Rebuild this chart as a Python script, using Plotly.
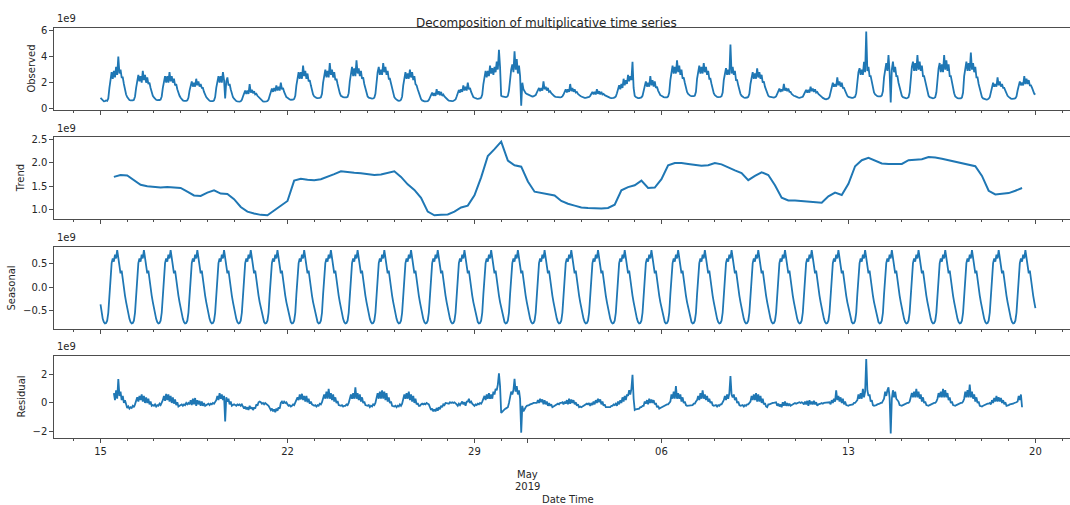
import pandas as pd
import plotly.graph_objects as go

# ---------------- data (values in units of 1e9) ----------------
# observed, hourly from 2019-04-15 00:00, one row per day (h0 ... h23)
OBS_ROWS = [
    [0.85, 0.75, 0.62, 0.58, 0.60, 0.65, 0.62, 0.80, 1.60, 2.30, 2.80, 2.30, 2.90, 2.40, 3.20, 2.60, 4.00, 2.70, 3.00, 2.40, 2.40, 1.90, 1.40, 1.10],  # Apr 15
    [0.90, 0.75, 0.68, 0.65, 0.64, 0.66, 0.70, 0.95, 1.60, 2.20, 2.60, 2.10, 2.50, 2.00, 2.90, 2.20, 2.60, 2.00, 2.40, 1.90, 2.00, 1.60, 1.25, 1.00],
    [0.88, 0.76, 0.70, 0.67, 0.66, 0.68, 0.72, 0.95, 1.60, 2.20, 2.50, 2.00, 2.50, 2.00, 2.80, 2.10, 2.50, 2.00, 2.30, 1.80, 1.90, 1.50, 1.20, 1.00],
    [0.85, 0.72, 0.65, 0.62, 0.60, 0.62, 0.66, 0.85, 1.40, 1.80, 2.10, 1.70, 2.00, 1.70, 2.30, 1.80, 2.10, 1.70, 1.90, 1.60, 1.60, 1.30, 1.05, 0.90],
    [0.80, 0.70, 0.62, 0.60, 0.58, 0.60, 0.65, 0.90, 1.60, 2.20, 2.50, 2.00, 2.50, 2.00, 2.80, 2.20, 0.80, 2.10, 2.40, 1.80, 1.90, 1.50, 1.15, 0.90],
    [0.78, 0.66, 0.60, 0.57, 0.55, 0.56, 0.58, 0.70, 0.95, 1.20, 1.40, 1.15, 1.40, 1.15, 1.90, 1.25, 1.45, 1.20, 1.35, 1.10, 1.15, 1.00, 0.90, 0.80],  # Apr 20
    [0.72, 0.64, 0.58, 0.56, 0.55, 0.57, 0.60, 0.72, 1.00, 1.30, 1.55, 1.30, 1.60, 1.35, 1.80, 1.40, 1.70, 1.40, 2.00, 1.50, 1.60, 1.30, 1.10, 0.90],
    [0.85, 0.76, 0.72, 0.70, 0.69, 0.71, 0.76, 1.00, 1.80, 2.40, 2.80, 2.30, 2.80, 2.30, 3.30, 2.50, 2.90, 2.30, 2.70, 2.10, 2.20, 1.80, 1.40, 1.10],
    [0.95, 0.88, 0.85, 0.83, 0.82, 0.84, 0.88, 1.15, 2.00, 2.60, 3.00, 2.40, 2.90, 2.40, 3.50, 2.60, 3.00, 2.40, 2.80, 2.20, 2.30, 1.90, 1.50, 1.20],
    [1.00, 0.93, 0.90, 0.88, 0.87, 0.88, 0.92, 1.20, 2.10, 2.80, 3.20, 2.50, 3.10, 2.50, 3.70, 2.70, 3.10, 2.50, 2.90, 2.30, 2.40, 1.90, 1.50, 1.20],
    [0.95, 0.86, 0.82, 0.80, 0.79, 0.80, 0.86, 1.15, 2.10, 2.80, 3.20, 2.60, 3.00, 2.60, 3.50, 2.80, 3.20, 2.60, 2.90, 2.30, 2.30, 1.90, 1.50, 1.15],  # Apr 25
    [0.90, 0.78, 0.70, 0.65, 0.62, 0.63, 0.70, 0.95, 1.80, 2.50, 2.80, 2.30, 2.70, 2.30, 3.00, 2.40, 2.80, 2.20, 2.50, 1.90, 1.80, 1.50, 1.20, 0.95],
    [0.75, 0.65, 0.60, 0.58, 0.57, 0.58, 0.60, 0.68, 0.85, 1.05, 1.25, 1.00, 1.20, 1.00, 1.50, 1.10, 1.35, 1.05, 1.30, 1.00, 1.10, 0.95, 0.85, 0.75],
    [0.70, 0.64, 0.61, 0.60, 0.60, 0.61, 0.64, 0.72, 0.95, 1.20, 1.45, 1.25, 1.50, 1.30, 1.80, 1.40, 1.70, 1.40, 2.00, 1.50, 1.60, 1.30, 1.05, 0.90],
    [0.85, 0.80, 0.78, 0.77, 0.78, 0.80, 0.86, 1.10, 1.90, 2.50, 2.90, 2.40, 2.90, 2.50, 3.30, 2.70, 3.10, 2.60, 3.20, 2.80, 3.60, 3.00, 4.50, 3.20],
    [1.00, 0.95, 0.92, 0.90, 0.90, 0.92, 1.00, 1.40, 2.40, 3.00, 3.40, 2.80, 4.40, 3.00, 3.80, 2.70, 3.30, 2.50, 0.25, 2.00, 1.50, 1.30, 1.20, 1.15],  # Apr 30
    [1.10, 1.05, 1.00, 0.97, 0.95, 0.96, 1.00, 1.05, 1.25, 1.45, 1.60, 1.35, 1.60, 1.40, 2.10, 1.50, 1.70, 1.40, 1.60, 1.30, 1.35, 1.20, 1.10, 1.00],
    [0.95, 0.92, 0.90, 0.88, 0.87, 0.88, 0.90, 0.95, 1.10, 1.30, 1.50, 1.25, 1.50, 1.30, 1.90, 1.35, 1.60, 1.30, 1.50, 1.25, 1.30, 1.15, 1.05, 1.00],
    [0.95, 0.90, 0.87, 0.85, 0.84, 0.85, 0.88, 0.92, 1.00, 1.15, 1.30, 1.10, 1.30, 1.10, 1.50, 1.15, 1.35, 1.10, 1.30, 1.10, 1.15, 1.05, 1.00, 0.95],
    [0.92, 0.88, 0.85, 0.83, 0.82, 0.84, 0.88, 0.95, 1.20, 1.50, 1.80, 1.50, 1.90, 1.60, 2.30, 1.80, 2.20, 1.90, 2.60, 2.10, 2.50, 2.20, 3.60, 1.60],
    [1.00, 0.90, 0.85, 0.83, 0.82, 0.84, 0.88, 1.00, 1.40, 1.80, 2.10, 1.70, 2.00, 1.70, 2.50, 1.80, 2.20, 1.70, 2.10, 1.60, 1.70, 1.40, 1.20, 1.05],  # May 5
    [1.00, 0.93, 0.90, 0.88, 0.87, 0.89, 0.95, 1.25, 2.20, 2.90, 3.30, 2.70, 3.20, 2.70, 3.70, 2.80, 3.30, 2.60, 3.00, 2.30, 2.40, 2.00, 1.60, 1.30],
    [1.15, 1.05, 1.00, 0.97, 0.95, 0.97, 1.02, 1.30, 2.30, 3.00, 3.30, 2.70, 3.20, 2.70, 3.50, 2.80, 3.20, 2.60, 2.90, 2.30, 2.30, 1.90, 1.50, 1.20],
    [1.05, 0.95, 0.92, 0.90, 0.90, 0.92, 0.97, 1.25, 2.20, 2.80, 3.10, 2.60, 3.00, 2.60, 4.90, 2.70, 3.20, 2.60, 2.90, 2.20, 2.20, 1.80, 1.40, 1.15],
    [1.00, 0.90, 0.87, 0.85, 0.85, 0.87, 0.92, 1.15, 1.90, 2.50, 2.80, 2.30, 2.70, 2.30, 3.10, 2.40, 2.80, 2.30, 2.60, 2.00, 2.10, 1.70, 1.40, 1.10],
    [1.00, 0.93, 0.90, 0.87, 0.85, 0.86, 0.90, 0.95, 1.15, 1.35, 1.55, 1.30, 1.50, 1.35, 1.90, 1.40, 1.60, 1.35, 1.55, 1.30, 1.30, 1.15, 1.05, 1.00],  # May 10
    [0.97, 0.92, 0.88, 0.86, 0.85, 0.86, 0.88, 0.93, 1.10, 1.30, 1.45, 1.25, 1.45, 1.25, 1.70, 1.35, 1.55, 1.30, 1.50, 1.25, 1.30, 1.15, 1.05, 0.98],
    [0.92, 0.84, 0.78, 0.75, 0.74, 0.76, 0.80, 0.92, 1.30, 1.70, 2.00, 1.70, 1.90, 1.70, 2.40, 1.80, 2.10, 1.70, 2.00, 1.60, 1.60, 1.40, 1.15, 1.00],
    [0.92, 0.88, 0.85, 0.84, 0.84, 0.86, 0.92, 1.20, 2.10, 2.80, 3.10, 2.60, 3.00, 2.60, 3.60, 2.80, 5.90, 2.90, 3.20, 2.50, 2.50, 2.00, 1.60, 1.25],
    [1.10, 1.02, 0.97, 0.95, 0.94, 0.96, 1.02, 1.35, 2.40, 3.10, 3.50, 2.90, 4.10, 2.80, 0.50, 3.00, 3.60, 2.80, 3.20, 2.50, 2.50, 2.00, 1.60, 1.25],
    [1.00, 0.90, 0.85, 0.82, 0.81, 0.83, 0.90, 1.25, 2.40, 3.20, 3.60, 2.90, 3.50, 2.90, 4.10, 3.00, 3.60, 2.90, 3.30, 2.50, 2.50, 2.10, 1.60, 1.25],  # May 15
    [1.00, 0.90, 0.85, 0.82, 0.81, 0.83, 0.90, 1.25, 2.40, 3.10, 3.50, 2.80, 3.40, 2.80, 4.10, 3.00, 3.70, 2.90, 3.40, 2.50, 2.50, 2.00, 1.60, 1.20],
    [0.95, 0.86, 0.82, 0.80, 0.79, 0.81, 0.88, 1.25, 2.50, 3.20, 3.60, 2.90, 3.50, 2.90, 4.30, 3.00, 3.50, 2.80, 3.20, 2.40, 2.40, 1.90, 1.50, 1.15],
    [0.90, 0.80, 0.75, 0.72, 0.71, 0.73, 0.78, 0.90, 1.30, 1.70, 2.00, 1.70, 1.90, 1.70, 2.40, 1.80, 2.10, 1.70, 1.90, 1.60, 1.60, 1.40, 1.15, 1.00],
    [0.92, 0.83, 0.79, 0.77, 0.76, 0.78, 0.82, 0.95, 1.40, 1.80, 2.10, 1.80, 2.00, 1.80, 2.50, 1.90, 2.30, 1.90, 2.20, 1.80, 1.80, 1.60, 1.30, 1.15],  # May 19
]
OBS_LAST = [1.10]  # May 20 00:00

# seasonal, hourly from 2019-04-15 00:00 (the same daily profile every day)
SEAS_ROWS = [
    [-0.37, -0.58, -0.68, -0.75, -0.78, -0.77, -0.72, -0.55, -0.15, 0.35, 0.52, 0.62, 0.55, 0.70, 0.62, 0.80, 0.62, 0.50, 0.30, 0.36, 0.15, -0.02, -0.18, -0.32],
    [-0.45, -0.58, -0.68, -0.75, -0.78, -0.77, -0.72, -0.55, -0.15, 0.35, 0.52, 0.62, 0.55, 0.70, 0.62, 0.80, 0.62, 0.50, 0.30, 0.36, 0.15, -0.02, -0.18, -0.32],
    [-0.45, -0.58, -0.68, -0.75, -0.78, -0.77, -0.72, -0.55, -0.15, 0.35, 0.52, 0.62, 0.55, 0.70, 0.62, 0.80, 0.62, 0.50, 0.30, 0.36, 0.15, -0.02, -0.18, -0.32],
    [-0.45, -0.58, -0.68, -0.75, -0.78, -0.77, -0.72, -0.55, -0.15, 0.35, 0.52, 0.62, 0.55, 0.70, 0.62, 0.80, 0.62, 0.50, 0.30, 0.36, 0.15, -0.02, -0.18, -0.32],
    [-0.45, -0.58, -0.68, -0.75, -0.78, -0.77, -0.72, -0.55, -0.15, 0.35, 0.52, 0.62, 0.55, 0.70, 0.62, 0.80, 0.62, 0.50, 0.30, 0.36, 0.15, -0.02, -0.18, -0.32],
    [-0.45, -0.58, -0.68, -0.75, -0.78, -0.77, -0.72, -0.55, -0.15, 0.35, 0.52, 0.62, 0.55, 0.70, 0.62, 0.80, 0.62, 0.50, 0.30, 0.36, 0.15, -0.02, -0.18, -0.32],
    [-0.45, -0.58, -0.68, -0.75, -0.78, -0.77, -0.72, -0.55, -0.15, 0.35, 0.52, 0.62, 0.55, 0.70, 0.62, 0.80, 0.62, 0.50, 0.30, 0.36, 0.15, -0.02, -0.18, -0.32],
    [-0.45, -0.58, -0.68, -0.75, -0.78, -0.77, -0.72, -0.55, -0.15, 0.35, 0.52, 0.62, 0.55, 0.70, 0.62, 0.80, 0.62, 0.50, 0.30, 0.36, 0.15, -0.02, -0.18, -0.32],
    [-0.45, -0.58, -0.68, -0.75, -0.78, -0.77, -0.72, -0.55, -0.15, 0.35, 0.52, 0.62, 0.55, 0.70, 0.62, 0.80, 0.62, 0.50, 0.30, 0.36, 0.15, -0.02, -0.18, -0.32],
    [-0.45, -0.58, -0.68, -0.75, -0.78, -0.77, -0.72, -0.55, -0.15, 0.35, 0.52, 0.62, 0.55, 0.70, 0.62, 0.80, 0.62, 0.50, 0.30, 0.36, 0.15, -0.02, -0.18, -0.32],
    [-0.45, -0.58, -0.68, -0.75, -0.78, -0.77, -0.72, -0.55, -0.15, 0.35, 0.52, 0.62, 0.55, 0.70, 0.62, 0.80, 0.62, 0.50, 0.30, 0.36, 0.15, -0.02, -0.18, -0.32],
    [-0.45, -0.58, -0.68, -0.75, -0.78, -0.77, -0.72, -0.55, -0.15, 0.35, 0.52, 0.62, 0.55, 0.70, 0.62, 0.80, 0.62, 0.50, 0.30, 0.36, 0.15, -0.02, -0.18, -0.32],
    [-0.45, -0.58, -0.68, -0.75, -0.78, -0.77, -0.72, -0.55, -0.15, 0.35, 0.52, 0.62, 0.55, 0.70, 0.62, 0.80, 0.62, 0.50, 0.30, 0.36, 0.15, -0.02, -0.18, -0.32],
    [-0.45, -0.58, -0.68, -0.75, -0.78, -0.77, -0.72, -0.55, -0.15, 0.35, 0.52, 0.62, 0.55, 0.70, 0.62, 0.80, 0.62, 0.50, 0.30, 0.36, 0.15, -0.02, -0.18, -0.32],
    [-0.45, -0.58, -0.68, -0.75, -0.78, -0.77, -0.72, -0.55, -0.15, 0.35, 0.52, 0.62, 0.55, 0.70, 0.62, 0.80, 0.62, 0.50, 0.30, 0.36, 0.15, -0.02, -0.18, -0.32],
    [-0.45, -0.58, -0.68, -0.75, -0.78, -0.77, -0.72, -0.55, -0.15, 0.35, 0.52, 0.62, 0.55, 0.70, 0.62, 0.80, 0.62, 0.50, 0.30, 0.36, 0.15, -0.02, -0.18, -0.32],
    [-0.45, -0.58, -0.68, -0.75, -0.78, -0.77, -0.72, -0.55, -0.15, 0.35, 0.52, 0.62, 0.55, 0.70, 0.62, 0.80, 0.62, 0.50, 0.30, 0.36, 0.15, -0.02, -0.18, -0.32],
    [-0.45, -0.58, -0.68, -0.75, -0.78, -0.77, -0.72, -0.55, -0.15, 0.35, 0.52, 0.62, 0.55, 0.70, 0.62, 0.80, 0.62, 0.50, 0.30, 0.36, 0.15, -0.02, -0.18, -0.32],
    [-0.45, -0.58, -0.68, -0.75, -0.78, -0.77, -0.72, -0.55, -0.15, 0.35, 0.52, 0.62, 0.55, 0.70, 0.62, 0.80, 0.62, 0.50, 0.30, 0.36, 0.15, -0.02, -0.18, -0.32],
    [-0.45, -0.58, -0.68, -0.75, -0.78, -0.77, -0.72, -0.55, -0.15, 0.35, 0.52, 0.62, 0.55, 0.70, 0.62, 0.80, 0.62, 0.50, 0.30, 0.36, 0.15, -0.02, -0.18, -0.32],
    [-0.45, -0.58, -0.68, -0.75, -0.78, -0.77, -0.72, -0.55, -0.15, 0.35, 0.52, 0.62, 0.55, 0.70, 0.62, 0.80, 0.62, 0.50, 0.30, 0.36, 0.15, -0.02, -0.18, -0.32],
    [-0.45, -0.58, -0.68, -0.75, -0.78, -0.77, -0.72, -0.55, -0.15, 0.35, 0.52, 0.62, 0.55, 0.70, 0.62, 0.80, 0.62, 0.50, 0.30, 0.36, 0.15, -0.02, -0.18, -0.32],
    [-0.45, -0.58, -0.68, -0.75, -0.78, -0.77, -0.72, -0.55, -0.15, 0.35, 0.52, 0.62, 0.55, 0.70, 0.62, 0.80, 0.62, 0.50, 0.30, 0.36, 0.15, -0.02, -0.18, -0.32],
    [-0.45, -0.58, -0.68, -0.75, -0.78, -0.77, -0.72, -0.55, -0.15, 0.35, 0.52, 0.62, 0.55, 0.70, 0.62, 0.80, 0.62, 0.50, 0.30, 0.36, 0.15, -0.02, -0.18, -0.32],
    [-0.45, -0.58, -0.68, -0.75, -0.78, -0.77, -0.72, -0.55, -0.15, 0.35, 0.52, 0.62, 0.55, 0.70, 0.62, 0.80, 0.62, 0.50, 0.30, 0.36, 0.15, -0.02, -0.18, -0.32],
    [-0.45, -0.58, -0.68, -0.75, -0.78, -0.77, -0.72, -0.55, -0.15, 0.35, 0.52, 0.62, 0.55, 0.70, 0.62, 0.80, 0.62, 0.50, 0.30, 0.36, 0.15, -0.02, -0.18, -0.32],
    [-0.45, -0.58, -0.68, -0.75, -0.78, -0.77, -0.72, -0.55, -0.15, 0.35, 0.52, 0.62, 0.55, 0.70, 0.62, 0.80, 0.62, 0.50, 0.30, 0.36, 0.15, -0.02, -0.18, -0.32],
    [-0.45, -0.58, -0.68, -0.75, -0.78, -0.77, -0.72, -0.55, -0.15, 0.35, 0.52, 0.62, 0.55, 0.70, 0.62, 0.80, 0.62, 0.50, 0.30, 0.36, 0.15, -0.02, -0.18, -0.32],
    [-0.45, -0.58, -0.68, -0.75, -0.78, -0.77, -0.72, -0.55, -0.15, 0.35, 0.52, 0.62, 0.55, 0.70, 0.62, 0.80, 0.62, 0.50, 0.30, 0.36, 0.15, -0.02, -0.18, -0.32],
    [-0.45, -0.58, -0.68, -0.75, -0.78, -0.77, -0.72, -0.55, -0.15, 0.35, 0.52, 0.62, 0.55, 0.70, 0.62, 0.80, 0.62, 0.50, 0.30, 0.36, 0.15, -0.02, -0.18, -0.32],
    [-0.45, -0.58, -0.68, -0.75, -0.78, -0.77, -0.72, -0.55, -0.15, 0.35, 0.52, 0.62, 0.55, 0.70, 0.62, 0.80, 0.62, 0.50, 0.30, 0.36, 0.15, -0.02, -0.18, -0.32],
    [-0.45, -0.58, -0.68, -0.75, -0.78, -0.77, -0.72, -0.55, -0.15, 0.35, 0.52, 0.62, 0.55, 0.70, 0.62, 0.80, 0.62, 0.50, 0.30, 0.36, 0.15, -0.02, -0.18, -0.32],
    [-0.45, -0.58, -0.68, -0.75, -0.78, -0.77, -0.72, -0.55, -0.15, 0.35, 0.52, 0.62, 0.55, 0.70, 0.62, 0.80, 0.62, 0.50, 0.30, 0.36, 0.15, -0.02, -0.18, -0.32],
    [-0.45, -0.58, -0.68, -0.75, -0.78, -0.77, -0.72, -0.55, -0.15, 0.35, 0.52, 0.62, 0.55, 0.70, 0.62, 0.80, 0.62, 0.50, 0.30, 0.36, 0.15, -0.02, -0.18, -0.32],
    [-0.45, -0.58, -0.68, -0.75, -0.78, -0.77, -0.72, -0.55, -0.15, 0.35, 0.52, 0.62, 0.55, 0.70, 0.62, 0.80, 0.62, 0.50, 0.30, 0.36, 0.15, -0.02, -0.18, -0.32],
]
SEAS_LAST = [-0.45]

# trend, 6-hourly from 2019-04-15 12:00 to 2019-05-19 12:00
TREND_ROWS = [
    [1.70, 1.74],
    [1.73, 1.62, 1.53, 1.50],
    [1.49, 1.47, 1.48, 1.47],
    [1.46, 1.38, 1.30, 1.29],
    [1.36, 1.41, 1.34, 1.33],
    [1.22, 1.05, 0.95, 0.91],
    [0.88, 0.87, 0.98, 1.08],
    [1.18, 1.62, 1.66, 1.64],
    [1.63, 1.65, 1.70, 1.76],
    [1.82, 1.80, 1.79, 1.78],
    [1.76, 1.74, 1.75, 1.78],
    [1.82, 1.70, 1.54, 1.42],
    [1.25, 0.95, 0.87, 0.88],
    [0.89, 0.95, 1.04, 1.08],
    [1.30, 1.69, 2.15, 2.30],
    [2.46, 2.05, 1.95, 1.92],
    [1.60, 1.38, 1.35, 1.33],
    [1.30, 1.18, 1.12, 1.08],
    [1.04, 1.03, 1.02, 1.02],
    [1.03, 1.10, 1.41, 1.48],
    [1.52, 1.62, 1.46, 1.47],
    [1.65, 1.95, 2.00, 2.00],
    [1.98, 1.96, 1.94, 1.95],
    [2.00, 1.97, 1.90, 1.84],
    [1.78, 1.63, 1.72, 1.80],
    [1.74, 1.52, 1.25, 1.19],
    [1.19, 1.18, 1.17, 1.16],
    [1.14, 1.28, 1.36, 1.31],
    [1.55, 1.93, 2.06, 2.11],
    [2.05, 1.99, 1.98, 1.98],
    [1.98, 2.06, 2.07, 2.08],
    [2.13, 2.12, 2.09, 2.06],
    [2.02, 2.00, 1.96, 1.93],
    [1.72, 1.40, 1.32, 1.33],
    [1.35, 1.40, 1.46],
]

# residual, hourly from 2019-04-15 12:00 to 2019-05-19 12:00
RESID_ROWS = [
    [0.70, 0.20, 0.90, 0.30, 1.70, 0.50, 0.80, 0.20, 0.50, 0.00, 0.20, -0.20],
    [-0.35, -0.25, -0.40, -0.30, -0.35, -0.20, -0.30, -0.10, 0.10, 0.40, 0.10, 0.50, 0.20, 0.60, 0.10, 0.50, 0.00, 0.40, 0.00, 0.30, -0.10, 0.10, -0.20, -0.15],
    [-0.20, -0.10, -0.25, -0.15, -0.20, -0.05, -0.15, 0.00, 0.20, 0.50, 0.15, 0.65, 0.20, 0.60, 0.10, 0.50, 0.00, 0.40, -0.05, 0.25, -0.15, 0.05, -0.25, -0.20],
    [-0.15, -0.10, -0.20, -0.10, -0.15, 0.00, -0.10, 0.00, -0.10, 0.20, -0.15, 0.30, -0.10, 0.35, -0.20, 0.20, -0.10, 0.15, -0.20, 0.10, -0.20, 0.00, -0.20, -0.15],
    [-0.10, -0.05, -0.15, -0.05, -0.10, 0.00, -0.05, 0.05, 0.20, 0.50, 0.20, 0.70, 0.30, 0.60, 0.20, 0.50, -1.30, 0.40, 0.10, 0.30, -0.10, 0.10, -0.20, -0.15],
    [-0.10, -0.15, -0.20, -0.10, -0.15, -0.10, -0.20, -0.10, -0.30, -0.40, -0.25, -0.45, -0.30, -0.50, -0.20, -0.40, -0.30, -0.50, -0.30, -0.40, -0.10, -0.20, 0.05, 0.10],
    [0.05, -0.05, 0.00, -0.10, 0.00, -0.05, -0.10, -0.20, -0.35, -0.50, -0.40, -0.60, -0.45, -0.65, -0.40, -0.55, -0.30, -0.40, 0.00, 0.10, -0.05, 0.10, 0.00, 0.05],
    [-0.10, -0.20, -0.15, -0.25, -0.20, -0.10, -0.15, 0.00, 0.15, 0.40, 0.20, 0.60, 0.25, 0.65, 0.20, 0.50, 0.10, 0.50, 0.05, 0.30, -0.05, 0.10, -0.10, -0.15],
    [-0.20, -0.15, -0.25, -0.15, -0.20, -0.05, -0.10, 0.05, 0.30, 0.60, 0.30, 0.80, 0.30, 1.00, 0.30, 0.70, 0.20, 0.60, 0.10, 0.40, 0.00, 0.15, -0.15, -0.20],
    [-0.20, -0.15, -0.25, -0.20, -0.20, -0.10, -0.15, 0.00, 0.25, 0.60, 0.30, 0.70, 0.30, 1.10, 0.30, 0.70, 0.20, 0.60, 0.10, 0.40, 0.00, 0.10, -0.15, -0.20],
    [-0.20, -0.15, -0.30, -0.20, -0.25, -0.10, -0.15, 0.00, 0.30, 0.70, 0.30, 0.80, 0.30, 0.90, 0.30, 0.80, 0.20, 0.70, 0.10, 0.40, 0.00, 0.10, -0.20, -0.25],
    [-0.25, -0.20, -0.30, -0.20, -0.25, -0.10, -0.20, -0.05, 0.20, 0.60, 0.30, 0.70, 0.30, 0.80, 0.20, 0.60, 0.10, 0.50, 0.00, 0.30, -0.10, 0.00, -0.20, -0.20],
    [-0.10, -0.05, -0.10, -0.05, -0.10, 0.00, -0.05, -0.10, -0.30, -0.50, -0.40, -0.60, -0.45, -0.60, -0.35, -0.55, -0.30, -0.45, -0.20, -0.30, -0.10, -0.15, 0.00, 0.00],
    [0.00, -0.05, 0.05, 0.00, 0.05, 0.00, 0.05, 0.00, -0.10, -0.20, -0.05, -0.15, 0.00, 0.10, -0.10, 0.05, -0.20, 0.10, 0.10, 0.30, 0.00, 0.10, -0.05, -0.10],
    [-0.20, -0.10, -0.15, -0.05, -0.10, 0.00, -0.05, 0.10, 0.30, 0.50, 0.20, 0.60, 0.30, 0.70, 0.30, 0.60, 0.30, 0.80, 0.60, 1.00, 0.90, 1.30, 2.10, 1.20],
    [-0.70, -0.60, -0.50, -0.45, -0.40, -0.35, -0.30, 0.00, 0.40, 0.80, 0.60, 0.90, 1.70, 0.80, 1.20, 0.60, 0.90, 0.30, -2.10, -0.20, -0.60, -0.40, -0.30, -0.20],
    [-0.20, -0.15, -0.10, -0.10, -0.05, 0.00, 0.00, 0.05, 0.00, 0.20, 0.00, 0.30, 0.05, 0.25, -0.10, 0.20, -0.10, 0.10, -0.20, 0.00, -0.20, -0.10, -0.30, -0.25],
    [-0.20, -0.15, -0.10, -0.05, -0.10, 0.00, 0.00, 0.05, -0.10, 0.10, -0.05, 0.20, -0.10, 0.30, -0.05, 0.25, 0.00, 0.20, -0.10, 0.05, -0.20, -0.10, -0.30, -0.25],
    [-0.30, -0.25, -0.20, -0.15, -0.15, -0.05, -0.10, 0.00, -0.20, 0.00, -0.15, 0.10, -0.10, 0.20, 0.00, 0.30, 0.05, 0.25, -0.10, 0.10, -0.20, -0.10, -0.30, -0.30],
    [-0.30, -0.25, -0.30, -0.20, -0.20, -0.10, -0.15, -0.05, -0.20, 0.10, -0.10, 0.20, 0.00, 0.40, 0.10, 0.50, 0.20, 0.60, 0.50, 0.90, 0.60, 1.00, 2.00, 0.30],
    [-0.50, -0.45, -0.45, -0.40, -0.40, -0.30, -0.30, -0.20, -0.20, 0.10, -0.05, 0.20, -0.10, 0.30, 0.00, 0.25, 0.00, 0.20, -0.10, 0.00, -0.30, -0.20, -0.40, -0.35],
    [-0.30, -0.25, -0.20, -0.20, -0.15, -0.10, -0.10, 0.05, 0.10, 0.60, 0.30, 0.80, 0.30, 1.20, 0.30, 0.70, 0.30, 0.60, 0.10, 0.40, 0.00, 0.10, -0.15, -0.20],
    [-0.20, -0.15, -0.20, -0.15, -0.15, -0.05, -0.05, 0.10, 0.20, 0.50, 0.20, 0.70, 0.30, 0.90, 0.30, 0.60, 0.20, 0.50, 0.10, 0.30, 0.00, 0.10, -0.15, -0.20],
    [-0.20, -0.15, -0.25, -0.15, -0.20, -0.10, -0.10, 0.05, 0.20, 0.50, 0.20, 0.60, 0.30, 0.70, 1.90, 0.60, 0.40, 0.60, 0.20, 0.40, 0.00, 0.10, -0.15, -0.20],
    [-0.20, -0.15, -0.25, -0.15, -0.20, -0.10, -0.10, 0.00, 0.10, 0.50, 0.20, 0.60, 0.20, 0.70, 0.10, 0.60, 0.10, 0.50, 0.00, 0.30, -0.10, 0.00, -0.25, -0.30],
    [-0.10, -0.10, -0.05, -0.05, 0.00, 0.00, 0.00, 0.05, -0.20, -0.05, -0.25, -0.10, -0.30, 0.05, -0.20, 0.10, -0.20, 0.00, -0.20, -0.05, -0.20, -0.15, -0.10, -0.10],
    [0.00, -0.05, 0.00, 0.00, 0.05, 0.00, 0.05, 0.00, -0.10, 0.10, -0.10, 0.15, -0.20, 0.20, -0.10, 0.10, -0.10, 0.15, -0.10, 0.05, -0.20, -0.10, -0.10, -0.05],
    [0.00, -0.05, 0.00, 0.00, 0.05, 0.00, 0.05, 0.05, -0.10, 0.20, 0.00, 0.30, 0.10, 0.90, 0.20, 0.50, 0.10, 0.40, 0.00, 0.30, -0.10, 0.10, -0.15, -0.20],
    [-0.20, -0.15, -0.15, -0.10, -0.10, 0.00, 0.00, 0.10, 0.20, 0.60, 0.30, 0.70, 0.30, 1.00, 0.40, 0.80, 3.10, 0.90, 0.50, 0.60, 0.10, 0.20, -0.15, -0.20],
    [-0.20, -0.15, -0.10, -0.10, -0.05, 0.00, 0.00, 0.15, 0.30, 0.80, 0.50, 0.90, 1.10, 0.40, -2.15, 0.30, 0.90, 0.40, 0.80, 0.30, 0.20, 0.10, -0.15, -0.20],
    [-0.20, -0.15, -0.10, -0.10, -0.05, 0.00, 0.00, 0.10, 0.40, 0.70, 0.40, 0.80, 0.40, 1.00, 0.40, 0.80, 0.30, 0.60, 0.10, 0.40, 0.00, 0.10, -0.15, -0.20],
    [-0.20, -0.15, -0.10, -0.10, -0.05, 0.00, 0.00, 0.10, 0.30, 0.70, 0.40, 0.80, 0.40, 1.00, 0.40, 0.90, 0.40, 0.70, 0.20, 0.40, 0.00, 0.10, -0.15, -0.20],
    [-0.20, -0.15, -0.10, -0.10, -0.05, 0.00, 0.00, 0.10, 0.30, 0.80, 0.40, 0.90, 0.40, 1.30, 0.40, 0.80, 0.30, 0.60, 0.10, 0.40, 0.00, 0.10, -0.20, -0.25],
    [-0.25, -0.20, -0.15, -0.10, -0.10, -0.05, -0.05, 0.00, -0.10, 0.20, 0.00, 0.35, 0.10, 0.50, 0.10, 0.40, 0.10, 0.35, 0.00, 0.20, -0.10, 0.05, -0.20, -0.20],
    [-0.15, -0.10, -0.10, -0.05, -0.05, 0.00, 0.00, 0.05, 0.10, 0.50, 0.20, 0.60, -0.30],
]

# axis tick values / labels
X_TICKS = ["2019-04-15", "2019-04-22", "2019-04-29", "2019-05-01",
           "2019-05-06", "2019-05-13", "2019-05-20"]
X_TICKTEXT = ["15", "22", "29", "", "06", "13", "20"]
MONTH_LABEL_X = "2019-05-01"
MONTH_LABEL = ["May", "2019"]
OBS_TICKS = [0, 2, 4, 6]
OBS_TICKTEXT = ["0", "2", "4", "6"]
TREND_TICKS = [1.0, 1.5, 2.0, 2.5]
TREND_TICKTEXT = ["1.0", "1.5", "2.0", "2.5"]
SEAS_TICKS = [-0.5, 0.0, 0.5]
SEAS_TICKTEXT = ["\u22120.5", "0.0", "0.5"]
RESID_TICKS = [-2, 0, 2]
RESID_TICKTEXT = ["\u22122", "0", "2"]
PANEL_NAMES = ["Observed", "Trend", "Seasonal", "Residual"]

# ---------------- build series ----------------
observed = [v for row in OBS_ROWS for v in row] + OBS_LAST
seasonal = [v for row in SEAS_ROWS for v in row] + SEAS_LAST
trend = [v for row in TREND_ROWS for v in row]
resid = [v for row in RESID_ROWS for v in row]

t_obs = pd.date_range("2019-04-15 00:00", periods=len(observed), freq="1h")
t_seas = pd.date_range("2019-04-15 00:00", periods=len(seasonal), freq="1h")
t_trend = pd.date_range("2019-04-15 12:00", periods=len(trend), freq="6h")
t_resid = pd.date_range("2019-04-15 12:00", periods=len(resid), freq="1h")

W, H = 1070, 505
LINE = "#1f77b4"
SPINE = "#4d4d4d"
TXT = "#262626"
FONT = "DejaVu Sans"


def py(px):
    return 1 - px / H


# panel pixel boxes (top, bottom) and y-label x positions
boxes = [(25.0, 108.3), (136.4, 219.7), (247.5, 330.8), (358.3, 441.6)]
label_x = [32, 20, 12, 22]
x_left = 54.3 / W

fig = go.Figure()
series = [(t_obs, observed, 1.8), (t_trend, trend, 2.0), (t_seas, seasonal, 1.8), (t_resid, resid, 1.8)]
for i, (tx, ty, lw) in enumerate(series):
    fig.add_trace(go.Scatter(
        x=tx, y=ty, mode="lines",
        line=dict(color=LINE, width=lw),
        xaxis="x" if i == 0 else f"x{i+1}",
        yaxis="y" if i == 0 else f"y{i+1}",
        showlegend=False, hoverinfo="skip",
    ))

x_range = ["2019-04-13 06:29", "2019-05-21 07:05"]
y_cfg = [
    ([-0.05, 6.2], OBS_TICKS, OBS_TICKTEXT),
    ([0.786, 2.556], TREND_TICKS, TREND_TICKTEXT),
    ([-0.89, 0.875], SEAS_TICKS, SEAS_TICKTEXT),
    ([-2.45, 3.35], RESID_TICKS, RESID_TICKTEXT),
]

layout = dict(
    width=W, height=H,
    margin=dict(l=0, r=0, t=0, b=0),
    paper_bgcolor="white", plot_bgcolor="white",
    font=dict(family=FONT, size=10, color=TXT),
    annotations=[],
)

for i in range(4):
    top, bot = boxes[i]
    xa = "xaxis" if i == 0 else f"xaxis{i+1}"
    ya = "yaxis" if i == 0 else f"yaxis{i+1}"
    yname = "y" if i == 0 else f"y{i+1}"
    xname = "x" if i == 0 else f"x{i+1}"
    layout[xa] = dict(
        domain=[x_left, 1.0], anchor=yname, range=x_range, type="date",
        tickmode="array", tickvals=X_TICKS, ticktext=X_TICKTEXT,
        showticklabels=(i == 3),
        ticks="outside", ticklen=4, tickwidth=1, tickcolor=SPINE,
        minor=dict(tickmode="linear", tick0="2019-04-15", dtick=86400000,
                   ticks="outside", ticklen=2, tickwidth=1, tickcolor=SPINE,
                   showgrid=False),
        showline=True, linecolor=SPINE, linewidth=1, mirror=True,
        showgrid=False, zeroline=False,
        tickfont=dict(family=FONT, size=10, color=TXT),
        matches=None if i == 0 else "x",
    )
    yr, tv, tt = y_cfg[i]
    layout[ya] = dict(
        domain=[py(bot), py(top)], anchor=xname, range=yr,
        tickmode="array", tickvals=tv, ticktext=tt,
        ticks="outside", ticklen=4, tickwidth=1, tickcolor=SPINE,
        showline=True, linecolor=SPINE, linewidth=1, mirror=False,
        showgrid=False, zeroline=False,
        tickfont=dict(family=FONT, size=10, color=TXT),
    )
    layout["annotations"].append(dict(
        text=PANEL_NAMES[i], xref="paper", yref="paper",
        x=label_x[i] / W, y=py((top + bot) / 2), xanchor="center", yanchor="middle",
        textangle=-90, showarrow=False, font=dict(family=FONT, size=10, color=TXT)))
    layout["annotations"].append(dict(
        text="1e9", xref="paper", yref="paper",
        x=54.5 / W, y=py(top - 1.5), xanchor="left", yanchor="bottom",
        showarrow=False, font=dict(family=FONT, size=10, color=TXT)))

# month / year label under the May 1 tick (on the bottom axis)
for txt, ypx in zip(MONTH_LABEL, [475, 487]):
    layout["annotations"].append(dict(
        text=txt, xref="x4", yref="paper", x=MONTH_LABEL_X, y=py(ypx),
        xanchor="center", yanchor="middle", yshift=-4, showarrow=False,
        font=dict(family=FONT, size=10, color=TXT)))

layout["annotations"].append(dict(
    text="Decomposition of multiplicative time series", xref="paper", yref="paper",
    x=546.5 / W, y=py(20), xanchor="center", yanchor="middle", showarrow=False,
    font=dict(family=FONT, size=12, color=TXT)))
layout["annotations"].append(dict(
    text="Date Time", xref="paper", yref="paper",
    x=568 / W, y=py(499), xanchor="center", yanchor="middle", yshift=-5, showarrow=False,
    font=dict(family=FONT, size=10, color=TXT)))

fig.update_layout(**layout)
fig.write_html("out.html")
